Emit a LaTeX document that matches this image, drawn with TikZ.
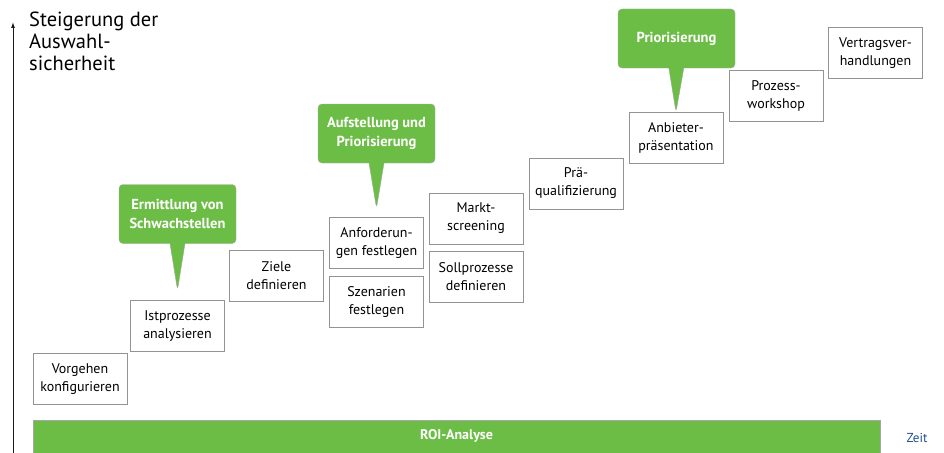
\documentclass[tikz,border=0pt]{standalone}
\usepackage{fontspec}
\setmainfont{PT Sans}
\usetikzlibrary{positioning}
\usetikzlibrary{shapes.callouts}
\usetikzlibrary{arrows.meta}

\definecolor{phasegreen}{HTML}{6CBD45}
\definecolor{zeitblue}{HTML}{1F4E8C}

\tikzset{
  stepbox/.style={draw=gray!85, line width=0.8pt, fill=white,
    minimum width=94pt, minimum height=51pt, align=center, inner sep=2pt,
    font=\fontsize{14}{18}\selectfont},
  phasecallout/.style={rectangle callout, draw=gray!70, fill=phasegreen,
    rounded corners=4pt, minimum width=117pt, minimum height=59pt,
    align=center, text=white, callout pointer width=15pt,
    font=\fontsize{14.5}{19}\selectfont\bfseries},
}

\begin{document}
\begin{tikzpicture}[x=1pt,y=-1pt]
		\useasboundingbox (0,0) rectangle (944,452);
		% axis
		\coordinate (axisfoot) at (13,460);
		\coordinate (axistop) at (13,22);
		\draw[line width=1pt, gray!20!black, -{Latex[length=6pt,width=4pt]}] (axisfoot) -- (axistop);
		\node[anchor=north west, align=left, inner sep=0pt,
			font=\fontsize{20.5}{22}\selectfont] (title) at (29,12)
			{Steigerung der\\Auswahl-\\sicherheit};
		% steps
		\node[stepbox] (vorgehen) at (80,379) {Vorgehen\\konfigurieren};
		\node[stepbox] (ist) at (177.5,326) {Istprozesse\\analysieren};
		\node[stepbox] (ziele) at (276.5,275.5) {Ziele\\definieren};
		\node[stepbox] (anf) at (376.5,243) {Anforderun-\\gen festlegen};
		\node[stepbox] (szen) at (376.5,302) {Szenarien\\festlegen};
		\node[stepbox] (markt) at (476,218.5) {Markt-\\screening};
		\node[stepbox] (soll) at (476,276.5) {Sollprozesse\\definieren};
		\node[stepbox] (praequal) at (576,183.5) {Prä-\\qualifizierung};
		\node[stepbox] (anbieter) at (676,138) {Anbieter-\\präsentation};
		\node[stepbox] (workshop) at (776,96) {Prozess-\\workshop};
		\node[stepbox] (vertrag) at (875.5,53) {Vertragsver-\\handlungen};
		% phases
		\node[phasecallout, callout absolute pointer={([yshift=10pt]ist.north)}]
			(schwach) at (177.5,214) {Ermittlung von\\Schwachstellen};
		\node[phasecallout, callout absolute pointer={([yshift=9pt]anf.north)}]
			(aufst) at (376.5,133.5) {Aufstellung und\\Priorisierung};
		\node[phasecallout, callout absolute pointer={(anbieter.north)}]
			(prio) at (676.5,38.5) {Priorisierung};
		% bottom bar
		\draw[draw=gray!70, line width=0.8pt, fill=phasegreen] (33,420) rectangle (880,462);
		\node[text=white, font=\fontsize{14}{18}\selectfont\bfseries] (roi) at (456.5,436) {ROI-Analyse};
		\node[text=zeitblue, font=\fontsize{13}{15}\selectfont] (zeit) at (917,438) {Zeit};
	\end{tikzpicture}
\end{document}
